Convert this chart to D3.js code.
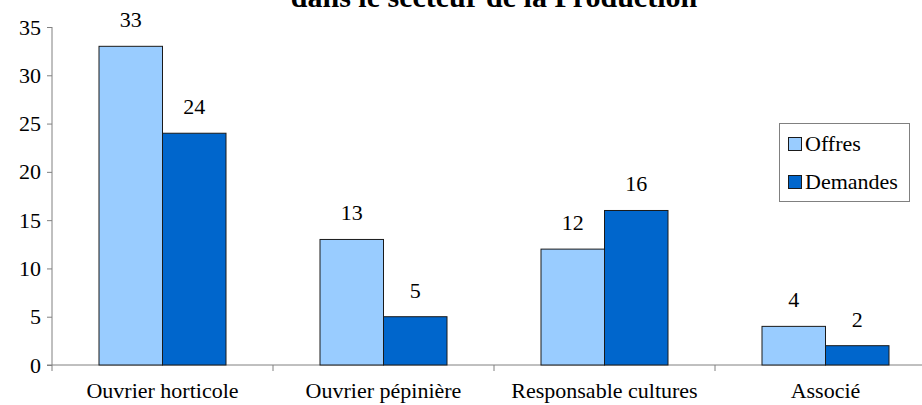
<!DOCTYPE html>
<html>
<head>
<meta charset="utf-8">
<script src="https://cdn.jsdelivr.net/npm/d3@7"></script>
<style>
  body { margin: 0; background: #fff; }
  svg text { font-family: "Liberation Serif", "Times New Roman", serif !important; }
</style>
</head>
<body>
<svg id="chart" width="922" height="405"></svg>
<script>
const categories = ['Ouvrier horticole', 'Ouvrier pépinière', 'Responsable cultures', 'Associé']
const seriesNames = ['Offres', 'Demandes']
const offres = [33, 13, 12, 4]
const demandes = [24, 5, 16, 2]
const yTicks = [0, 5, 10, 15, 20, 25, 30, 35]
const colors = ['#99CCFF', '#0066CC']
const title = 'dans le secteur de la Production'

const svg = d3.select('#chart')

const x = d3.scaleBand().domain(categories).range([52, 936]).paddingInner(0).paddingOuter(0)
const y = d3.scaleLinear().domain([0, 35]).range([365, 27])
const barW = 63.5
const fs = 22

// title (first line is off the top)
svg.append('text')
    .attr('x', 494).attr('y', 7)
    .attr('text-anchor', 'middle')
    .attr('font-weight', 'bold')
    .attr('font-size', 30)
    .text(title)

// y axis
const yAxis = svg.append('g')
    .attr('transform', 'translate(52,0)')
    .call(d3.axisLeft(y).tickValues(yTicks).tickSize(5).tickPadding(6))
yAxis.select('.domain').attr('stroke', '#808080').attr('d', `M0,${y(35)}V${y(0)}`)
yAxis.selectAll('.tick line').attr('stroke', '#808080')
yAxis.selectAll('.tick text').attr('font-size', fs).attr('fill', '#000')

// x axis line with ticks at band edges
svg.append('line')
    .attr('x1', 47).attr('x2', 922)
    .attr('y1', y(0)).attr('y2', y(0))
    .attr('stroke', '#808080')
categories.forEach(c => {
    svg.append('line')
        .attr('x1', x(c)).attr('x2', x(c))
        .attr('y1', y(0)).attr('y2', y(0) + 6)
        .attr('stroke', '#808080')
})

const data = categories.map((c, i) => ({ c, vals: [offres[i], demandes[i]] }))

const groups = svg.selectAll('g.cat')
    .data(data)
    .enter()
    .append('g')
    .attr('class', 'cat')

groups.each(function (d) {
    const g = d3.select(this)
    const center = x(d.c) + x.bandwidth() / 2
    d.vals.forEach((v, k) => {
        const x0 = center + (k - 1) * barW
        g.append('rect')
            .attr('x', x0).attr('y', y(v))
            .attr('width', barW).attr('height', y(0) - y(v))
            .attr('fill', colors[k])
            .attr('stroke', '#1a1a1a')
            .attr('stroke-width', 1)
        g.append('text')
            .attr('x', x0 + barW / 2)
            .attr('y', y(v) - 19)
            .attr('text-anchor', 'middle')
            .attr('font-size', fs)
            .text(v)
    })
    g.append('text')
        .attr('x', center)
        .attr('y', 398)
        .attr('text-anchor', 'middle')
        .attr('font-size', fs)
        .text(d.c)
})

// legend
const legend = svg.append('g')
legend.append('rect')
    .attr('x', 779.5).attr('y', 123.5)
    .attr('width', 130).attr('height', 78)
    .attr('fill', '#fff')
    .attr('stroke', '#808080')
seriesNames.forEach((s, k) => {
    const yy = 137 + k * 38
    legend.append('rect')
        .attr('x', 788.5).attr('y', yy + 0.5)
        .attr('width', 13).attr('height', 13)
        .attr('fill', colors[k])
        .attr('stroke', '#1a1a1a')
    legend.append('text')
        .attr('x', 805).attr('y', yy + 14)
        .attr('font-size', fs)
        .text(s)
})
</script>
</body>
</html>
